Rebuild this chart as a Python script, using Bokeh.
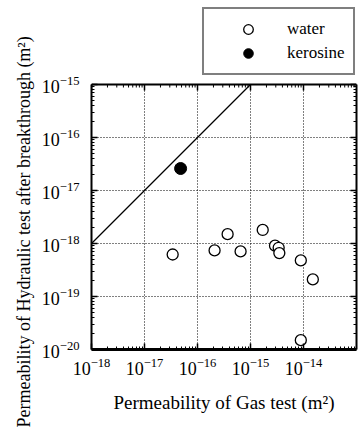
from bokeh.plotting import figure
from bokeh.models import (FixedTicker, LogAxis, CustomJSTickFormatter, Legend,
                          LegendItem, Range1d, Span, Title)
from bokeh.embed import file_html
from bokeh.resources import INLINE

# ---- data ----
water_gas = [3.4e-17, 2.1e-16, 3.7e-16, 6.5e-16, 1.7e-15, 2.9e-15, 3.4e-15,
             3.5e-15, 8.9e-15, 1.5e-14, 8.9e-15]
water_hyd = [6.2e-19, 7.4e-19, 1.5e-18, 7.1e-19, 1.8e-18, 9.1e-19, 8.3e-19,
             6.6e-19, 4.8e-19, 2.1e-19, 1.5e-20]
kero_gas = [4.8e-17]
kero_hyd = [2.6e-17]
line_x = [1e-18, 1e-15]
line_y = [1e-18, 1e-15]
x_major = [1e-18, 1e-17, 1e-16, 1e-15, 1e-14]
y_major = [1e-20, 1e-19, 1e-18, 1e-17, 1e-16, 1e-15]
x_label = "Permeability of Gas test (m\u00b2)"
y_label = "Permeability of Hydraulic test after breakthrough (m\u00b2)"

FONT = "Liberation Serif"

X_LO, X_HI = 1e-18, 1e-13
Y_LO, Y_BOX = 1e-20, 1e-15
DEC = 53.0            # pixels per decade
FRAME_H = 349         # frame reaches the top of the canvas (room for legend)
Y_HI = 10 ** (-20 + FRAME_H / DEC)


def minors(lo, hi):
    out = []
    for e in range(lo, hi):
        for k in range(2, 10):
            out.append(k * 10.0 ** e)
    return out


x_minor = minors(-18, -13)
y_minor = minors(-20, -15)

p = figure(width=360, height=430, x_axis_type="log", y_axis_type="log",
           x_range=Range1d(X_LO, X_HI), y_range=Range1d(Y_LO, Y_HI),
           output_backend="svg", toolbar_location=None,
           min_border_left=91, min_border_top=0, min_border_right=4,
           min_border_bottom=430 - FRAME_H)
p.background_fill_color = "white"
p.border_fill_color = "white"
p.outline_line_color = None

xt = FixedTicker(ticks=x_major, minor_ticks=x_minor)
yt = FixedTicker(ticks=y_major, minor_ticks=y_minor)
p.xaxis.ticker = xt
p.yaxis.ticker = yt
p.xgrid.ticker = xt
p.ygrid.ticker = yt
p.yaxis.bounds = (Y_LO, Y_BOX)
p.xgrid.cross_bounds = (Y_LO, Y_BOX)

for g in (p.xgrid, p.ygrid):
    g.grid_line_color = "black"
    g.grid_line_dash = "1 2"
    g.grid_line_width = 1

for ax in (p.xaxis[0], p.yaxis[0]):
    ax.major_tick_in = 6
    ax.major_tick_out = 0
    ax.minor_tick_in = 3
    ax.minor_tick_out = 0
    ax.axis_line_color = "black"
    ax.axis_line_width = 2
    ax.major_tick_line_width = 1.5
    ax.minor_tick_line_width = 1
    ax.major_label_text_font = FONT
    ax.major_label_text_font_size = "18px"
    ax.major_label_text_color = "black"
    ax.axis_label_text_font = FONT
    ax.axis_label_text_font_size = "19px"
    ax.axis_label_text_font_style = "normal"
    ax.axis_label_text_color = "black"

p.xaxis.axis_line_width = 3
p.xaxis.axis_label = x_label
p.xaxis.major_label_standoff = 8
p.xaxis.axis_label_standoff = 14
p.yaxis.major_label_standoff = 12

# y-axis title: starts near the bottom of the canvas and reads upward
p.add_layout(Title(text=y_label, align="left", offset=-78,
                   text_font=FONT, text_font_size="18px",
                   text_font_style="normal", text_color="black"), "left")

rax = LogAxis(ticker=yt, formatter=CustomJSTickFormatter(code="return ''"),
              bounds=(Y_LO, Y_BOX),
              major_label_standoff=0, major_tick_in=6, major_tick_out=0,
              minor_tick_in=3, minor_tick_out=0, axis_line_width=2,
              axis_line_color="black", major_tick_line_width=1.5,
              minor_tick_line_width=1, major_label_text_font_size="0px")
p.add_layout(rax, "right")

# top edge of the box and its inward ticks
p.add_layout(Span(location=Y_BOX, dimension="width", line_color="black",
                  line_width=2))
p.segment(x0=x_major, x1=x_major, y0=[Y_BOX] * len(x_major),
          y1=[Y_BOX * 10 ** (-6 / DEC)] * len(x_major),
          line_color="black", line_width=1.5)
p.segment(x0=x_minor, x1=x_minor, y0=[Y_BOX] * len(x_minor),
          y1=[Y_BOX * 10 ** (-3 / DEC)] * len(x_minor),
          line_color="black", line_width=1)

p.line(line_x, line_y, line_color="black", line_width=1.3)
r_w = p.scatter(water_gas, water_hyd, marker="circle", size=11,
                fill_color="white", line_color="black", line_width=1.3)
r_k = p.scatter(kero_gas, kero_hyd, marker="circle", size=12,
                fill_color="black", line_color="black")

legend = Legend(items=[LegendItem(label="water", renderers=[r_w]),
                       LegendItem(label="kerosine", renderers=[r_k])],
                location=(111, 274))
legend.label_text_font = FONT
legend.label_text_font_size = "17px"
legend.label_text_color = "black"
legend.border_line_color = "black"
legend.border_line_width = 2
legend.background_fill_color = "white"
legend.background_fill_alpha = 1
legend.padding = 8
legend.spacing = -3
legend.glyph_width = 72
legend.glyph_height = 24
legend.label_height = 24
legend.label_standoff = 3
legend.margin = 0
p.add_layout(legend)

open("out.html", "w").write(file_html(p, INLINE))
